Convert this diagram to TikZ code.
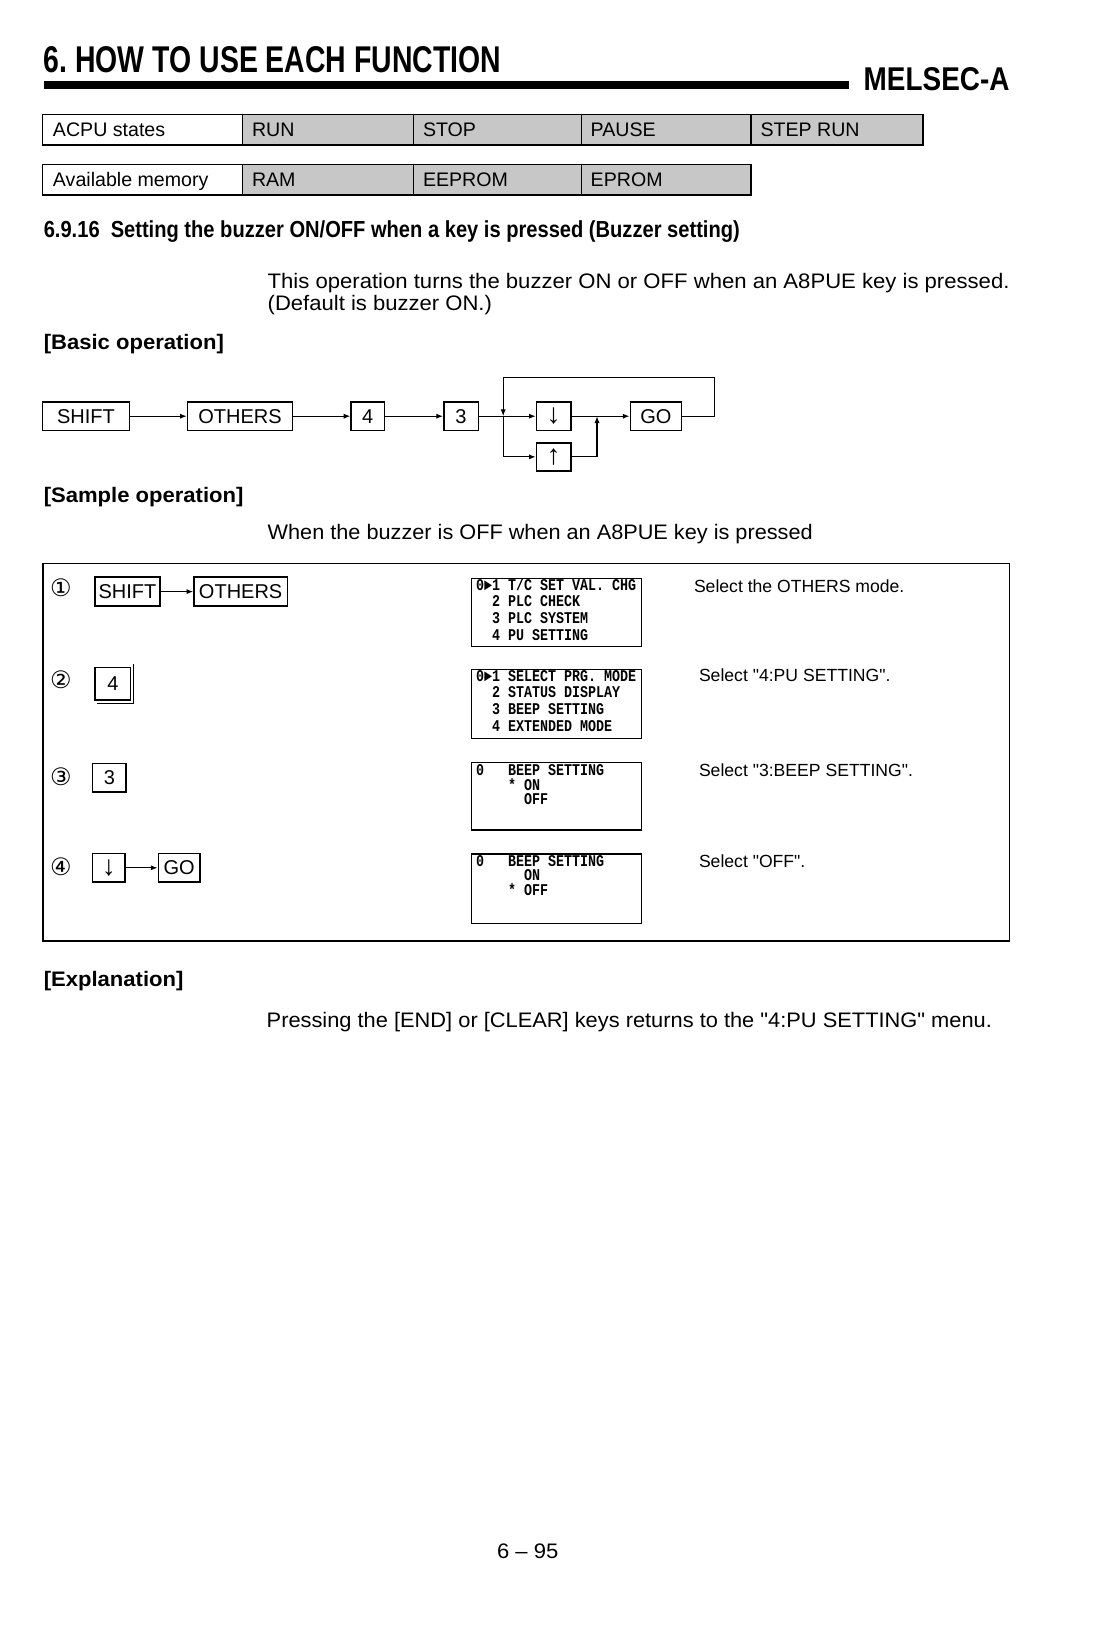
\documentclass[tikz,border=0pt]{standalone}
\usepackage{fontspec}
\usepackage{graphicx}
\setmainfont{Liberation Sans}
\newfontfamily\bodyf[FakeStretch=1.05]{Liberation Sans}
\newfontfamily\plainf{Liberation Sans}
\newfontfamily\lcdf[FakeStretch=0.813]{Liberation Mono}
\newfontfamily\circf{DejaVu Sans}
\usetikzlibrary{arrows.meta}
\newcommand{\fitw}[2]{\resizebox{#1}{\height}{#2}}
\newcommand{\fitwh}[3]{\resizebox{#1}{#2}{#3}}
\newcommand{\arrowglyph}[1]{{\fontsize{14}{14}\selectfont #1}}
\begin{document}
\begin{tikzpicture}[x=0.5pt,y=-0.5pt,
  txt/.style={anchor=base west, inner sep=0pt, outer sep=0pt},
  body/.style={txt, font=\bodyf\fontsize{10.5}{12}\selectfont},
  bhead/.style={txt, font=\bodyf\bfseries\fontsize{10.5}{12}\selectfont},
  desc/.style={txt, font=\plainf\fontsize{8.8}{10}\selectfont},
  lcd/.style={txt, font=\lcdf\bfseries\fontsize{8.2}{9}\selectfont},
  key/.style={draw, line width=0.7pt, inner sep=0pt, font=\fontsize{10}{12}\selectfont},
  screen/.style={draw, line width=0.7pt, inner sep=0pt},
  conn/.style={line width=0.6pt},
  arr/.style={conn, -{Latex[length=3.4pt,width=2.6pt]}},
  cellline/.style={draw, line width=0.7pt},
  shade/.style={fill=black!22},
  celltxt/.style={txt, font=\fontsize{9.8}{12}\selectfont},
  circ/.style={font=\circf\fontsize{12}{12}\selectfont, inner sep=0pt},
]
\useasboundingbox (0,0) rectangle (1097,1633);
\fill[white] (0,0) rectangle (1097,1633);

% ---------- page header ----------
\node[txt] (title) at (43.8,72.9) {\fitwh{228.6pt}{13pt}{\bfseries 6.\ HOW TO USE EACH FUNCTION}};
\fill[black] (44,80.5) rectangle (849,88.5);
\node[txt] (melsec) at (863.7,90.6) {\fitwh{72.9pt}{11.5pt}{\bfseries MELSEC-A}};

% ---------- state tables ----------
\fill[shade] (242.7,114.6) rectangle (923,144.8);
\draw[cellline] (42.7,114.6) rectangle (923,144.8);
\foreach \xx in {242.7,413.6,581.3,751.1} \draw[cellline] (\xx,114.6) -- (\xx,144.8);
\node[celltxt] (acpu) at (53,136.6) {ACPU states};
\node[celltxt] (run) at (252,136.6) {RUN};
\node[celltxt] (stop) at (423,136.6) {STOP};
\node[celltxt] (pause) at (590.7,136.6) {PAUSE};
\node[celltxt] (steprun) at (760.5,136.6) {STEP RUN};

\fill[shade] (242.7,164.6) rectangle (751.1,194.8);
\draw[cellline] (42.7,164.6) rectangle (751.1,194.8);
\foreach \xx in {242.7,413.6,581.3} \draw[cellline] (\xx,164.6) -- (\xx,194.8);
\node[celltxt] (avail) at (53,186.6) {Available memory};
\node[celltxt] (ram) at (252,186.6) {RAM};
\node[celltxt] (eeprom) at (423,186.6) {EEPROM};
\node[celltxt] (eprom) at (590.7,186.6) {EPROM};

% ---------- heading and intro ----------
\node[txt] (heading) at (43.8,237.5) {\fitw{348pt}{\bfseries\fontsize{11.6}{14}\selectfont 6.9.16\hspace{0.55em}Setting the buzzer ON/OFF when a key is pressed (Buzzer setting)}};
\node[body] (intro1) at (267.7,288.6) {\fitw{370.9pt}{This operation turns the buzzer ON or OFF when an A8PUE key is pressed.}};
\node[body] (intro2) at (267.7,310.5) {(Default is buzzer ON.)};
\node[bhead] (basic) at (43.8,349) {[Basic operation]};

% ---------- basic operation ----------
\node[key, minimum width=43.25pt, minimum height=14.1pt] (bshift) at (85.95,416.2) {SHIFT};
\node[key, minimum width=52.6pt, minimum height=14.1pt] (bothers) at (240.1,416.2) {OTHERS};
\node[key, minimum width=16.65pt, minimum height=14.1pt] (bfour) at (367.75,416.2) {4};
\node[key, minimum width=17.2pt, minimum height=14.1pt] (bthree) at (461,416.2) {3};
\node[key, minimum width=17.2pt, minimum height=14.1pt] (bdown) at (553.7,416.2) {\arrowglyph{↓}};
\node[key, minimum width=25.5pt, minimum height=14.1pt] (bgo) at (655.8,416.2) {GO};
\node[key, minimum width=17.2pt, minimum height=14.05pt] (bup) at (553.7,456.85) {\arrowglyph{↑}};
\coordinate (bj) at (503.2,416.2);
\coordinate (bm) at (597,416.2);
\coordinate (bloop) at (714.7,377.1);
\draw[arr] (bshift) -- (bothers);
\draw[arr] (bothers) -- (bfour);
\draw[arr] (bfour) -- (bthree);
\draw[arr] (bthree) -- (bdown);
\draw[arr] (bdown) -- (bgo);
\draw[arr] (bj) |- (bup.west);
\draw[arr] (bup.east) -| (bm);
\draw[arr] (bgo.east) -| (bloop) -| (bj);

% ---------- sample operation ----------
\node[bhead] (sample) at (43.8,502) {[Sample operation]};
\node[body] (when) at (267.7,539.7) {\fitw{272.5pt}{When the buzzer is OFF when an A8PUE key is pressed}};
\draw[line width=0.8pt] (42.7,563.6) rectangle (1009.5,940.7);

\node[circ] (c1) at (61,587.6) {①};
\node[circ] (c2) at (61,680) {②};
\node[circ] (c3) at (61,777) {③};
\node[circ] (c4) at (61,866.8) {④};

\node[key, minimum width=32.5pt, minimum height=14.5pt] (sshift) at (127.5,591.6) {SHIFT};
\node[key, minimum width=46.65pt, minimum height=14.5pt] (sothers) at (240.65,591.6) {OTHERS};
\draw[arr] (sshift) -- (sothers);
\node[key, minimum width=17.85pt, minimum height=16.35pt] (sfour) at (112.85,683.65) {4};
\draw[line width=0.5pt] ([xshift=1.2pt,yshift=1.4pt]sfour.north east) -- ([xshift=1.2pt,yshift=-1.2pt]sfour.south east) -- ([xshift=1.4pt,yshift=-1.2pt]sfour.south west);
\node[key, minimum width=16.65pt, minimum height=14.35pt] (sthree) at (109.35,777.65) {3};
\node[key, minimum width=16.15pt, minimum height=14.35pt] (sdown) at (108.85,867.8) {\arrowglyph{↓}};
\node[key, minimum width=20.85pt, minimum height=14.35pt] (sgo) at (179.15,867.8) {GO};
\draw[arr] (sdown) -- (sgo);

% screens
\node[screen, minimum width=85pt, minimum height=34.2pt] (scr1) at (556.7,612.5) {};
\node[lcd] (s1a) at (476,590.7) {0►1 T/C SET VAL. CHG};
\node[lcd] (s1b) at (492,606.7) {2 PLC CHECK};
\node[lcd] (s1c) at (492,623.3) {3 PLC SYSTEM};
\node[lcd] (s1d) at (492,640) {4 PU SETTING};

\node[screen, minimum width=85pt, minimum height=34.5pt] (scr2) at (556.7,703.8) {};
\node[lcd] (s2a) at (476,681) {0►1 SELECT PRG. MODE};
\node[lcd] (s2b) at (492,697.7) {2 STATUS DISPLAY};
\node[lcd] (s2c) at (492,714.3) {3 BEEP SETTING};
\node[lcd] (s2d) at (492,731) {4 EXTENDED MODE};

\node[screen, minimum width=85pt, minimum height=33.65pt] (scr3) at (556.7,796.35) {};
\node[lcd] (s3z) at (476,775) {0};
\node[lcd] (s3a) at (508,775) {BEEP SETTING};
\node[lcd] (s3b) at (508,790) {* ON};
\node[lcd] (s3c) at (524,804.5) {OFF};

\node[screen, minimum width=85pt, minimum height=34.65pt] (scr4) at (556.7,888.65) {};
\node[lcd] (s4z) at (476,866) {0};
\node[lcd] (s4a) at (508,866) {BEEP SETTING};
\node[lcd] (s4b) at (524,880.7) {ON};
\node[lcd] (s4c) at (508,895.7) {* OFF};

% descriptions
\node[desc] (d1) at (694,592.5) {Select the OTHERS mode.};
\node[desc] (d2) at (699,681) {Select "4:PU SETTING".};
\node[desc] (d3) at (699,776) {Select "3:BEEP SETTING".};
\node[desc] (d4) at (699,867) {Select "OFF".};

% ---------- explanation ----------
\node[bhead] (expl) at (43.8,986.6) {[Explanation]};
\node[body] (expltxt) at (266.7,1027.2) {\fitw{362.6pt}{Pressing the [END] or [CLEAR] keys returns to the "4:PU SETTING" menu.}};

% ---------- page number ----------
\node[body] (page) at (497,1558.5) {6 – 95};
\end{tikzpicture}
\end{document}
